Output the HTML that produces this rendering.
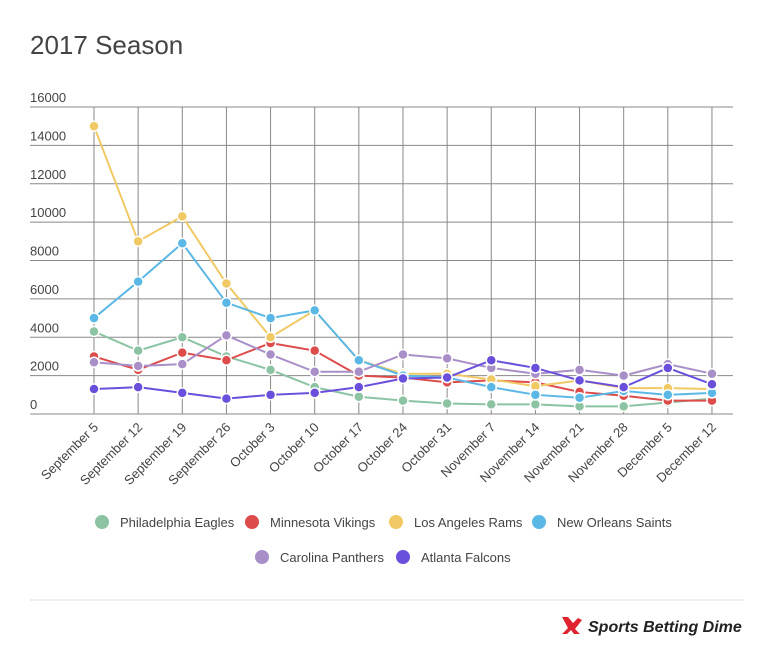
<!DOCTYPE html>
<html><head><meta charset="utf-8"><style>
body{margin:0;background:#fff;width:775px;height:653px;overflow:hidden;font-family:"Liberation Sans",sans-serif}
</style></head><body>
<svg id="s" width="775" height="653" xmlns="http://www.w3.org/2000/svg" font-family="Liberation Sans, sans-serif">
<text x="30" y="54" font-size="26" fill="#444">2017 Season</text>
<g id="grid" stroke="#888" stroke-width="1"></g>
<g id="ylab" font-size="13" fill="#444"></g>
<g id="xlab" font-size="13" fill="#444"></g>
<g id="series"></g>
<g font-size="13" fill="#444">
<circle cx="102" cy="522" r="7" fill="#8cc4a3"/><text x="120" y="527">Philadelphia Eagles</text>
<circle cx="252" cy="522" r="7" fill="#dd4b4b"/><text x="270" y="527">Minnesota Vikings</text>
<circle cx="396" cy="522" r="7" fill="#f1c964"/><text x="414" y="527">Los Angeles Rams</text>
<circle cx="539" cy="522" r="7" fill="#5bb8e6"/><text x="557" y="527">New Orleans Saints</text>
<circle cx="262" cy="557" r="7" fill="#a98fc8"/><text x="280" y="562">Carolina Panthers</text>
<circle cx="403" cy="557" r="7" fill="#6a4fdc"/><text x="421" y="562">Atlanta Falcons</text>
</g>
<line x1="30" y1="600" x2="744" y2="600" stroke="#ddd"/>
<g transform="translate(562,617)">
<polygon points="0,0 6,0 11,6 16,1 20,3 13,12 18,17 12,17 9,13 5,17 0,17 6,11" fill="#e0232f"/>
</g>
<text x="588" y="632" font-size="16" font-weight="bold" font-style="italic" fill="#222">Sports Betting Dime</text>
</svg>
<script>
const ns="http://www.w3.org/2000/svg";
const g=document.getElementById('grid'),yl=document.getElementById('ylab'),xl=document.getElementById('xlab'),se=document.getElementById('series');
function el(t,a,p){const e=document.createElementNS(ns,t);for(const k in a)e.setAttribute(k,a[k]);p.appendChild(e);return e;}
const y0=414,ppu=(414-107)/16000,x0=94,dx=44.14;
for(let i=0;i<=8;i++){const y=y0-i*2000*ppu;el('line',{x1:30,x2:733,y1:y,y2:y},g);const t=el('text',{x:30,y:y-5},yl);t.textContent=String(i*2000);}
const labs=["September 5","September 12","September 19","September 26","October 3","October 10","October 17","October 24","October 31","November 7","November 14","November 21","November 28","December 5","December 12"];
labs.forEach((l,i)=>{const x=x0+i*dx;el('line',{x1:x,x2:x,y1:107,y2:414},g);const t=el('text',{x:x+5,y:428,'text-anchor':'end',transform:`rotate(-45 ${x+5} 428)`},xl);t.textContent=l;});
const data=[
["#8cc4a3",[4300,3300,4000,3000,2300,1400,900,700,550,500,500,400,400,600,800]],
["#dd4b4b",[3000,2300,3200,2800,3700,3300,2000,1900,1650,1750,1650,1150,950,700,700]],
["#f1c964",[15000,9000,10300,6800,4000,5400,2800,2100,2100,1800,1450,1750,1350,1350,1300]],
["#5bb8e6",[5000,6900,8900,5800,5000,5400,2800,2000,1900,1400,1000,850,1200,1000,1100]],
["#a98fc8",[2700,2500,2600,4100,3100,2200,2200,3100,2900,2400,2100,2300,2000,2600,2100]],
["#6a4fdc",[1300,1400,1100,800,1000,1100,1400,1850,1900,2800,2400,1750,1400,2400,1550]]];
data.forEach(([c,v])=>{const pts=v.map((d,i)=>[x0+i*dx,y0-d*ppu]);
el('polyline',{points:pts.map(p=>p.join(',')).join(' '),fill:'none',stroke:c,'stroke-width':2},se);
pts.forEach(p=>el('circle',{cx:p[0],cy:p[1],r:5,fill:c,stroke:'#fff','stroke-width':1.5},se));});
</script>
</body></html>
